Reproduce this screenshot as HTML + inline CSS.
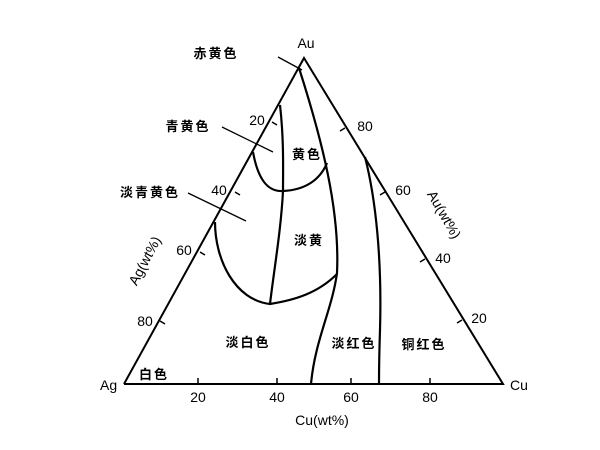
<!DOCTYPE html>
<html><head><meta charset="utf-8"><style>
html,body{margin:0;padding:0;background:#fff;}
svg{display:block;}
text{font-family:"Liberation Sans","Noto Sans CJK SC",sans-serif;fill:#000;}
.c{font-family:"Noto Sans CJK SC","WenQuanYi Zen Hei",sans-serif;font-weight:bold;font-size:13px;letter-spacing:2px;}
</style></head><body>
<svg width="600" height="450" viewBox="0 0 600 450" xmlns="http://www.w3.org/2000/svg">
<g fill="none" stroke="#000" stroke-width="2">
<polyline points="124,384 304,58 503,384 124,384"/>
<path d="M198,384v-6M277,384v-6M351,384v-6M430,384v-6" stroke-width="1.5"/>
<path d="M272,122l5,3M235,192l5,3M200,252l5,3M160,321l5,3" stroke-width="1.5"/>
<path d="M345,128l-5,3M385,192l-5,3M425,259l-5,3M462,320l-5,3" stroke-width="1.5"/>
<path d="M299,68 C322,140 340,210 337,273 C332,310 315,340 311,384" stroke-width="2.2"/>
<path d="M280,105 C284,140 283,170 283,191 C281,230 274,270 270,304" stroke-width="2.2"/>
<path d="M253,152 C258,180 268,192 283,191 C305,190 320,180 327,163" stroke-width="2.2"/>
<path d="M215,222 C215,260 235,300 270,304 C295,300 318,293 337,274" stroke-width="2.2"/>
<path d="M365,157 C376,200 382,260 380,330 C379,360 379,375 379,384" stroke-width="2.2"/>
<path d="M278,57 L302,70M222,127 L273,152M188,193 L246,221" stroke-width="1.3"/>
</g>
<g font-size="14">
<text x="306" y="48" text-anchor="middle">Au</text>
<text x="100" y="390">Ag</text>
<text x="510" y="390">Cu</text>
<text x="198" y="402" text-anchor="middle">20</text>
<text x="277" y="402" text-anchor="middle">40</text>
<text x="351" y="402" text-anchor="middle">60</text>
<text x="430" y="402" text-anchor="middle">80</text>
<text x="322" y="425" text-anchor="middle">Cu(wt%)</text>
<text x="257" y="125" text-anchor="middle">20</text>
<text x="219" y="195" text-anchor="middle">40</text>
<text x="184" y="255" text-anchor="middle">60</text>
<text x="145" y="326" text-anchor="middle">80</text>
<text x="365" y="131" text-anchor="middle">80</text>
<text x="403" y="195" text-anchor="middle">60</text>
<text x="443" y="263" text-anchor="middle">40</text>
<text x="479" y="323" text-anchor="middle">20</text>
<text transform="translate(149,263) rotate(-62)" text-anchor="middle">Ag(wt%)</text>
<text transform="translate(440,217) rotate(60)" text-anchor="middle">Au(wt%)</text>
</g>
<g class="c">
<text x="216" y="58" text-anchor="middle">赤黄色</text>
<text x="188" y="131" text-anchor="middle">青黄色</text>
<text x="150" y="197" text-anchor="middle">淡青黄色</text>
<text x="307" y="159" text-anchor="middle">黄色</text>
<text x="309" y="245" text-anchor="middle">淡黄</text>
<text x="248" y="347" text-anchor="middle">淡白色</text>
<text x="354" y="348" text-anchor="middle">淡红色</text>
<text x="424" y="349" text-anchor="middle">铜红色</text>
<text x="154" y="379" text-anchor="middle">白色</text>
</g>
</svg>
</body></html>
